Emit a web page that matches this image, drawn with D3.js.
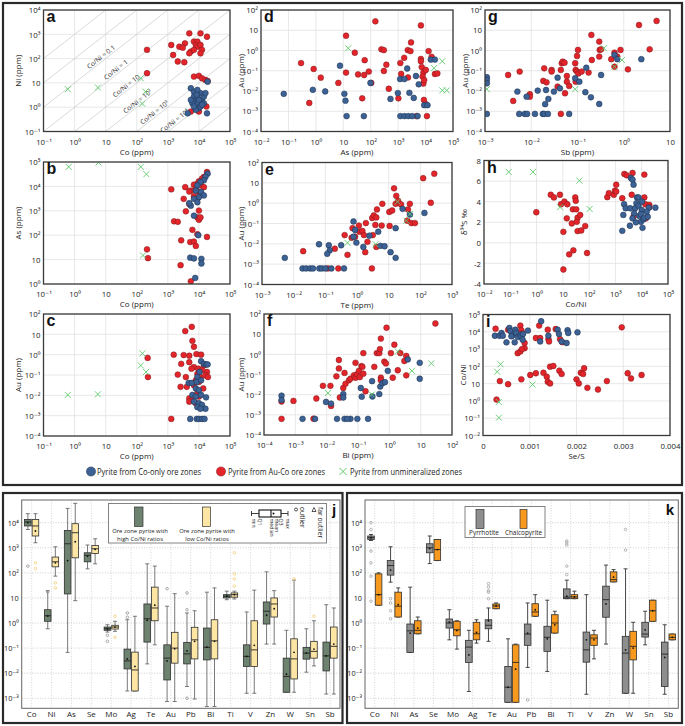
<!DOCTYPE html>
<html><head><meta charset="utf-8">
<script src="https://cdn.jsdelivr.net/npm/d3@7"></script>
<style>body{margin:0;background:#fff}</style>
</head><body>
<script>
// Panel a: [log10 Co ppm, log10 Ni ppm]
const aBlue=[[3.64,-0.25],[3.74,0.78],[3.84,0.64],[3.90,0.30],[3.95,0.16],[4.00,-0.04],[4.05,0.58],[4.10,0.30],[4.16,0.44],[4.21,0.58],[3.84,0.44],[3.95,0.44],[4.05,0.03],[3.79,0.16],[3.90,-0.11],[4.16,0.16],[4.26,-0.25],[4.28,1.05],[4.00,0.30],[3.74,0.30],[3.95,0.71],[3.84,0.03],[4.10,0.10],[3.93,0.51]];
const aRed=[[3.69,3.04],[4.05,3.04],[4.26,2.90],[3.11,2.56],[3.55,2.63],[3.37,2.49],[3.48,2.45],[3.84,2.70],[3.95,2.70],[3.90,2.56],[3.95,2.49],[4.05,2.56],[4.10,2.36],[4.05,2.22],[3.74,2.29],[3.84,2.36],[3.69,2.22],[3.17,2.15],[3.32,1.88],[3.53,1.85],[2.33,2.36],[2.33,1.40],[3.84,1.26],[4.00,1.29],[4.10,1.19],[4.21,1.12],[4.28,1.08],[3.90,0.03],[3.74,-0.18],[4.24,0.03],[4.00,-0.18]];
const aGreen=[[-0.22,0.74],[0.75,0.81],[2.13,1.19],[2.28,0.64],[2.18,0.14]];
const coNiRatios=[-3,-2,-1,0,1,2,3,4,5];
const coNiLabels=[["Co/Ni = 0.1",0.93,-1],["Co/Ni = 1",1.41,0],["Co/Ni = 10",1.74,1],["Co/Ni = 10²",2.11,2],["Co/Ni = 10³",2.65,3],["Co/Ni = 10⁴",3.30,4]];
// Panel b: [log10 Co, log10 As]
const bBlue=[[4.28,4.52],[4.21,4.39],[4.16,4.25],[4.05,4.18],[3.95,4.04],[3.90,3.83],[4.07,3.77],[4.16,3.63],[4.00,3.56],[3.84,3.49],[3.95,3.35],[3.74,3.21],[3.69,3.31],[3.84,2.80],[3.98,2.00],[3.72,1.08],[3.84,1.05],[4.08,1.03],[4.08,0.84],[3.88,0.25]];
const bRed=[[4.26,4.59],[4.16,4.39],[4.10,4.32],[4.00,4.21],[3.95,4.11],[3.84,4.07],[4.07,4.04],[3.90,3.90],[3.74,3.83],[3.56,3.97],[3.69,3.79],[4.00,3.77],[3.84,3.60],[3.95,3.49],[4.16,3.97],[3.11,3.88],[3.51,3.49],[3.69,3.28],[3.58,2.98],[4.00,3.01],[3.95,2.73],[4.00,2.63],[4.05,2.73],[3.20,2.57],[3.32,2.55],[3.79,2.22],[3.95,2.04],[4.26,1.93],[3.43,1.79],[3.72,1.72],[3.84,1.74],[3.90,1.56],[2.33,1.42],[2.36,1.06],[3.41,0.77],[3.74,0.11]];
const bGreen=[[-0.19,4.80],[0.77,4.98],[2.13,4.80],[2.31,4.50],[2.20,1.17]];
// Panel c: [log10 Co, log10 Au]
const cBlue=[[4.07,-0.32],[4.16,-0.45],[4.23,-0.48],[4.28,-0.48],[4.02,-0.85],[3.95,-1.10],[3.67,-1.39],[3.77,-1.39],[3.93,-1.34],[4.07,-1.26],[3.90,-1.66],[4.00,-1.74],[3.79,-1.98],[3.90,-2.06],[4.07,-1.98],[4.23,-2.10],[3.84,-2.31],[4.00,-2.39],[4.10,-2.47],[3.95,-2.58],[4.21,-2.66],[4.05,-2.66],[3.72,-3.16],[3.93,-3.16],[4.00,-3.16],[4.10,-3.16],[4.18,-3.16]];
const cRed=[[3.77,1.37],[3.56,1.16],[3.79,0.68],[3.84,0.39],[3.19,0.00],[3.51,-0.02],[3.69,-0.05],[3.92,0.03],[4.07,0.00],[3.43,-0.45],[3.69,-0.37],[3.84,-0.61],[3.98,-0.69],[3.76,-0.69],[4.16,-0.53],[4.26,-0.85],[4.10,-0.77],[3.32,-0.98],[3.58,-1.10],[3.95,-0.94],[4.05,-1.10],[4.21,-1.02],[4.29,-1.10],[3.41,-1.58],[3.61,-1.58],[3.90,-1.26],[4.00,-1.34],[3.84,-1.50],[4.14,-1.66],[3.69,-2.15],[3.79,-2.23],[3.95,-1.90],[3.69,-2.31],[3.90,-2.39],[4.00,-2.06],[3.11,-3.16],[2.35,-0.16],[2.36,-1.10]];
const cGreen=[[-0.22,-1.98],[0.75,-1.95],[2.18,0.06],[2.13,-0.53],[2.30,-0.85]];
// Panel d: [log10 As, log10 Au]
const dBlue=[[-1.17,-2.14],[-0.11,-1.94],[0.34,-2.02],[0.88,-0.75],[1.04,-2.14],[1.08,-2.48],[1.12,-3.24],[1.75,-3.24],[1.99,-1.60],[2.72,-2.39],[2.99,-2.10],[3.07,-1.41],[3.23,-1.41],[3.33,-0.89],[3.41,-2.09],[3.57,-2.34],[3.65,-1.26],[3.75,-1.67],[3.71,-3.24],[3.08,-3.24],[3.23,-3.24],[3.37,-3.24],[3.51,-3.24],[3.95,-2.70],[4.07,-2.70],[4.19,-0.45],[4.34,-0.45]];
const dRed=[[2.17,1.44],[3.83,1.24],[1.10,0.73],[-0.54,-0.62],[-0.08,-0.91],[-0.24,-2.59],[0.18,-1.34],[0.82,-1.60],[1.10,-1.09],[1.42,-0.11],[1.78,-0.48],[1.54,-1.18],[1.76,-1.21],[1.93,-1.04],[2.02,-1.60],[2.39,0.06],[2.48,0.02],[2.57,-0.70],[2.48,-1.01],[2.66,-1.89],[3.08,-0.62],[3.11,-1.16],[3.22,-0.36],[3.35,0.02],[3.45,-0.03],[3.47,0.40],[3.36,-1.33],[3.01,-2.36],[1.69,-2.36],[3.83,-0.42],[3.83,-0.53],[3.86,-0.82],[3.92,-1.09],[3.89,-1.29],[3.92,-1.63],[3.95,-1.46],[4.01,-0.96],[4.11,-0.03],[4.22,-0.31],[4.34,-1.16],[4.43,-1.13],[4.01,-2.65],[3.94,-2.44],[4.05,-3.24],[3.67,-3.24]];
const dGreen=[[1.18,0.11],[4.61,-0.53],[4.31,-0.87],[4.61,-1.97],[4.77,-1.97]];
// Panel e: [log10 Te, log10 Au]
const eBlue=[[-2.28,-2.69],[-1.72,-3.21],[-1.61,-3.21],[-1.48,-3.21],[-1.39,-3.21],[-1.19,-3.21],[-1.11,-3.21],[-1.00,-3.21],[-0.81,-3.21],[-0.41,-3.21],[-1.20,-2.02],[-0.89,-2.07],[-0.86,-2.32],[-0.94,-2.49],[-0.50,-2.07],[-0.11,-0.90],[-0.06,-1.32],[-0.02,-1.94],[-0.11,-1.65],[0.20,-2.15],[0.39,-1.60],[0.67,-1.40],[0.74,-2.10],[0.87,-2.12],[1.06,-2.41],[1.22,-2.69],[1.22,-1.23],[1.44,-0.28],[1.67,-0.56],[2.13,-0.48]];
const eRed=[[-1.70,-2.36],[-0.70,-2.24],[-0.92,-3.21],[-0.59,-3.21],[-0.39,-1.57],[-0.30,-2.54],[-0.17,-1.70],[-0.14,-1.23],[-0.06,-1.65],[0.06,-1.10],[0.08,-1.40],[0.17,-1.37],[0.22,-1.57],[0.28,-0.98],[0.26,-2.41],[0.33,-1.90],[0.47,-3.21],[0.50,-1.57],[0.48,-0.73],[0.53,-0.60],[0.58,-1.07],[0.61,-0.70],[0.63,-0.31],[0.80,-0.03],[0.78,-1.10],[1.02,-0.43],[1.03,-1.12],[1.11,-0.36],[1.17,0.73],[1.24,0.36],[1.22,-0.03],[1.30,0.11],[1.39,-0.06],[1.61,-0.31],[1.59,-0.86],[1.67,-0.03],[1.72,-0.98],[1.83,-0.98],[2.09,1.23],[2.44,1.45],[2.33,0.02],[0.61,-2.15]];
const eGreen=[[-0.30,-1.95],[0.59,-2.02],[1.28,0.07],[1.56,-0.86],[1.67,-0.53]];
// Panel f: [log10 Bi, log10 Au]
const fBlue=[[-3.44,-2.05],[-3.44,-2.27],[-2.77,-3.20],[-2.37,-3.20],[-2.02,-2.36],[-1.86,-2.44],[-1.67,-3.20],[-1.47,-1.97],[-1.47,-2.14],[-1.43,-3.20],[-1.24,-3.20],[-1.02,-3.20],[-1.34,-3.20],[-0.91,-1.67],[-0.88,-2.10],[-0.68,-3.20],[-0.55,-1.33],[-0.54,-2.09],[-0.32,-1.97],[-0.29,-1.60],[-0.22,-1.43],[-0.14,-1.38],[-0.05,-0.82],[0.59,-0.25],[0.97,-0.42],[0.97,-1.21]];
const fRed=[[-3.44,-2.34],[-3.44,-3.20],[-3.06,-2.31],[-2.42,-3.19],[-2.33,-2.19],[-2.12,-1.56],[-1.88,-1.56],[-1.86,-2.56],[-1.69,-1.09],[-1.61,-0.28],[-1.58,-2.14],[-1.43,-0.92],[-1.61,-0.70],[-1.47,-1.67],[-1.40,-1.46],[-1.29,-1.29],[-1.24,-1.21],[-1.13,-1.04],[-1.08,-1.16],[-1.08,-0.42],[-1.04,-0.99],[-0.97,-0.82],[-0.94,-1.13],[-0.83,0.06],[-0.89,-0.58],[-0.86,-0.62],[-0.83,-0.96],[-0.76,-1.83],[-0.48,-0.62],[-0.40,0.06],[-0.32,0.06],[-0.30,0.26],[-0.27,0.78],[-0.27,-1.16],[-0.27,-1.29],[-0.16,-0.36],[-0.11,-0.45],[-0.09,1.32],[0.05,0.06],[0.11,-1.16],[0.16,0.48],[0.27,-0.79],[0.35,0.06],[0.48,-0.33],[0.54,-0.08],[0.54,-1.04],[1.47,1.53]];
const fGreen=[[-1.96,-1.92],[-0.56,-1.99],[0.27,0.14],[0.72,-0.82],[1.34,-0.45]];
// Panel g: [log10 Sb, log10 Au]
const gBlue=[[-2.96,-1.32],[-2.96,-1.45],[-2.96,-1.62],[-2.96,-3.13],[-2.30,-2.03],[-2.10,-2.28],[-2.26,-3.13],[-2.14,-3.13],[-2.09,-3.13],[-1.92,-3.13],[-1.75,-3.13],[-1.72,-3.13],[-1.64,-3.13],[-1.18,-3.13],[-1.86,-1.98],[-1.70,-2.65],[-1.68,-1.95],[-1.63,-2.39],[-1.51,-2.03],[-1.43,-1.34],[-1.38,-1.87],[-1.05,-1.37],[-0.96,-1.54],[-0.83,-2.06],[-0.81,-0.85],[-0.71,-2.31],[-0.53,-2.64],[-0.49,-1.21],[-0.20,-0.22],[-0.14,-0.43],[0.38,-0.43]];
const gRed=[[-2.50,-1.21],[-2.39,-2.49],[-2.25,-1.04],[-2.03,-2.16],[-2.03,-2.28],[-1.72,-0.88],[-1.74,-1.50],[-1.67,-1.57],[-1.56,-0.96],[-1.56,-1.04],[-1.43,-1.78],[-1.36,-0.96],[-1.34,-0.63],[-1.32,-0.55],[-1.28,-0.60],[-1.27,-2.11],[-1.23,-1.26],[-1.23,-1.54],[-1.18,-1.75],[-1.36,-3.13],[-1.05,-0.63],[-1.04,-0.96],[-1.04,-1.54],[-1.01,-1.04],[-0.98,-1.13],[-1.01,-0.27],[-0.99,0.03],[-0.91,-1.04],[-0.76,-1.09],[-0.70,0.77],[-0.69,-0.47],[-0.53,0.44],[-0.52,0.03],[-0.53,-0.30],[-0.49,0.06],[-0.20,-0.11],[-0.14,-0.30],[-0.07,0.03],[-0.27,-0.43],[-0.20,-0.80],[0.09,-0.93],[0.33,1.26],[0.56,0.06],[0.71,1.46]];
const gGreen=[[-2.96,-1.91],[-1.05,-1.91],[-0.43,0.11],[-0.04,-0.47],[-0.20,-0.80]];
// Panel h: [log10 Co/Ni, δ34S ‰]
const hBlue=[[3.26,1.17],[3.30,2.71],[3.33,3.75],[3.39,3.36],[3.55,1.66],[3.56,3.36],[3.59,6.30],[3.65,6.14],[3.69,5.65],[3.75,3.36],[3.71,2.87],[3.80,3.85],[3.82,4.41],[3.88,4.41],[3.88,3.62],[3.91,2.61],[3.97,2.05],[4.00,3.20],[3.97,2.80],[4.07,2.28],[4.01,4.01],[4.03,1.46],[4.10,2.44],[4.23,2.54],[4.27,3.42],[4.52,3.42],[4.19,3.03],[3.78,1.99],[3.65,2.38]];
const hRed=[[-0.01,2.97],[0.54,4.67],[0.66,4.41],[0.89,4.67],[0.93,3.75],[1.06,4.01],[1.17,3.75],[1.02,1.07],[1.15,2.38],[1.34,1.89],[1.38,3.26],[1.47,4.41],[1.49,4.08],[1.51,3.26],[1.56,2.44],[1.53,2.05],[1.56,1.14],[1.66,2.71],[1.70,1.20],[1.85,1.63],[1.92,-0.99],[1.24,-1.12],[1.40,-0.73],[1.02,-2.59],[2.69,4.44],[2.75,4.83],[2.94,4.67],[2.98,5.06],[3.03,5.65],[3.03,4.99],[3.26,4.34],[3.34,6.69],[3.43,6.56],[3.65,6.79],[3.62,4.67],[4.10,6.63],[4.10,4.41],[4.14,3.75],[4.29,3.69],[4.29,3.46],[4.16,2.38],[3.69,2.54]];
const hGreen=[[-1.06,6.89],[-0.14,6.89],[1.63,6.04],[2.02,3.29],[0.89,3.46]];
// Panel i: [Se/S, log10 Co/Ni]
const iBlue=[[0.000254,3.77],[0.000353,3.77],[0.000396,3.93],[0.000424,3.77],[0.000502,3.39],[0.000565,4.22],[0.000587,4.03],[0.000622,3.77],[0.000608,3.74],[0.000678,3.39],[0.000693,4.12],[0.000714,3.93],[0.000749,3.70],[0.000799,3.83],[0.000820,3.74],[0.000855,3.87],[0.000961,4.07],[0.001223,3.44],[0.001244,4.61],[0.001399,3.77],[0.001597,4.12],[0.001625,3.87],[0.001682,3.44],[0.001788,3.35],[0.001809,4.09],[0.001823,3.93],[0.002021,3.97],[0.000848,3.54]];
const iRed=[[0.000269,4.18],[0.000537,4.12],[0.000799,4.36],[0.000820,4.09],[0.000848,3.89],[0.000890,3.35],[0.000890,3.05],[0.000742,2.76],[0.000799,2.86],[0.000834,3.00],[0.001131,3.64],[0.001201,4.36],[0.001223,3.64],[0.001385,4.12],[0.001399,3.58],[0.001413,3.44],[0.001555,4.16],[0.001647,3.58],[0.001696,3.40],[0.002968,4.26],[0.000290,0.08],[0.000360,1.15],[0.000537,0.97],[0.000820,1.25],[0.001011,1.50],[0.001131,1.60],[0.001293,1.63],[0.001364,1.40],[0.001435,1.98],[0.001505,2.02],[0.001385,1.11],[0.001435,1.01],[0.001633,1.75],[0.001682,1.56],[0.002000,1.25],[0.002049,1.01],[0.002092,1.63],[0.002141,1.56],[0.002163,1.89],[0.002233,0.76],[0.002459,0.66],[0.002650,1.15],[0.003095,1.60],[0.003166,1.30],[0.003392,1.50]];
const iGreen=[[0.000375,2.12],[0.000304,1.69],[0.000339,-0.06],[0.000339,-0.97],[0.001060,0.95]];

// Box plots: [min, Q1, median, Q3, max, mean] as log10 ppm
const elements=["Co","Ni","As","Se","Mo","Ag","Te","Au","Pb","Bi","Ti","V","Zn","W","Sn","Sb"];
const jHigh=[[3.73,3.87,4.03,4.13,4.36,4.0],[-0.23,0.07,0.29,0.53,1.29,0.28],[-1.17,1.16,3.16,3.69,4.57,2.49],[2.16,2.44,2.7,2.8,3.11,2.66],[-0.36,-0.29,-0.23,-0.16,-0.07,-0.23],[-2.71,-1.83,-1.51,-1.04,0.13,-1.43],[-1.63,-0.76,0.17,0.76,2.36,0.11],[-3.13,-2.27,-1.4,-0.87,0.67,-1.51],[-2.53,-1.63,-1.23,-0.77,0.4,-1.11],[-3.33,-1.47,-0.97,-0.2,1.23,-0.96],[0.93,1.0,1.07,1.13,1.27,1.07],[-2.8,-1.73,-1.33,-0.87,0.44,-1.33],[-0.84,-0.04,0.47,0.84,2.04,0.31],[-2.76,-2.76,-2.13,-1.4,-0.29,-2.04],[-1.96,-1.44,-1.2,-0.97,-0.23,-1.2],[-2.83,-1.91,-1.31,-0.76,0.73,-1.31]];
const jHighOut=[[2.27],[1.24],[],[],[-0.49,-0.73],[0.4,0.23],[],[1.37],[1.2,0.53,-3.0],[],[],[],[],[],[],[]];
const jLow=[[3.2,3.47,3.87,4.13,4.36,3.67],[1.87,2.24,2.44,2.63,3.04,2.4],[0.89,2.6,3.6,3.96,4.77,3.24],[2.36,2.77,2.96,3.09,3.36,2.94],[-0.33,-0.24,-0.16,-0.09,0.07,-0.16],[-2.71,-2.71,-1.87,-1.16,0.27,-1.73],[-0.87,0.09,0.6,1.43,2.27,0.71],[-3.13,-1.6,-1.0,-0.37,1.17,-1.03],[-3.03,-1.43,-0.67,-0.17,0.49,-0.73],[-3.33,-1.43,-0.71,0.13,1.4,-0.73],[0.96,1.03,1.13,1.2,1.27,1.13],[-2.8,-1.73,-1.07,0.09,1.31,-0.89],[-0.84,0.24,0.76,1.0,1.29,0.57],[-2.76,-2.23,-1.43,-0.63,1.71,-1.17],[-1.71,-1.4,-1.13,-0.73,0.09,-1.04],[-2.83,-1.4,-0.93,-0.16,0.6,-0.84]];
const jLowOut=[[2.4,2.17],[1.6,1.4],[],[],[0.27,-0.57],[],[],[],[],[],[2.8,1.96,1.76,1.47],[],[],[1.76],[0.27],[]];
const kPo=[[3.29,3.33,3.4,3.47,3.53,3.4],[1.63,1.91,2.29,2.49,3.04,2.11],[-1.17,-1.17,-0.31,-0.04,1.43,-0.4],[2.37,2.8,3.0,3.16,3.47,2.97],[-0.67,-0.2,0.0,0.16,0.53,0.03],[-2.73,-1.57,-0.96,-0.69,-0.29,-1.27],[-0.73,-0.23,-0.09,0.13,0.6,0.09],[-3.16,-3.16,-2.56,-1.73,-0.63,-2.56],[-1.77,-0.89,-0.44,-0.04,0.8,-0.4],[-1.93,-1.13,-0.57,-0.13,0.91,-0.63],[0.97,0.97,1.03,1.36,1.71,1.07],[-2.84,-1.56,-1.07,-0.36,1.13,-0.67],[-0.84,0.23,0.93,1.47,2.31,0.76],[-2.8,-2.8,-1.2,-0.53,2.16,-1.07],[-0.87,-0.56,-0.44,0.03,0.47,-0.27],[-2.84,-2.53,-1.24,-0.76,-0.07,-1.37]];
const kPoOut=[[4.0,3.73,2.87,2.4,1.87,0.87],[0.97,0.8,0.49,0.17],[],[],[],[],[1.57,1.44,1.29,1.23,0.97],[],[-3.07],[],[3.27,3.2,3.11,2.27,1.93],[],[],[3.73,2.91],[],[]];
const kCpy=[[0.71,0.71,1.13,1.96,2.0,1.13],[0.24,0.24,0.67,1.23,1.4,0.73],[-0.43,-0.43,-0.29,0.09,0.24,-0.2],[2.49,2.49,2.93,3.33,3.33,2.93],[-1.04,-0.51,-0.27,0.07,0.09,-0.3],[-0.8,-0.67,-0.43,0.03,0.13,-0.37],[0.57,0.57,0.68,0.76,0.8,0.68],[-3.16,-3.16,-1.57,-0.87,-0.84,-1.84],[0.27,0.27,0.44,0.77,1.13,0.53],[-0.4,-0.4,0.0,0.33,0.47,-0.07],[0.97,0.97,1.04,1.13,1.27,1.04],[-1.43,-0.89,-0.6,-0.47,-0.29,-0.67],[1.64,1.64,1.73,2.04,2.13,1.83],[-2.8,-1.47,-0.93,-0.33,0.03,-1.0],[0.07,0.07,0.49,0.91,0.91,0.49],[-0.67,-0.67,-0.57,-0.44,-0.44,-0.57]];
const kCpyOut=[[],[],[],[],[],[],[],[],[],[],[],[],[],[],[],[]];

// ---------------- DRAWING ----------------
const FONT='"Open Sans","DejaVu Sans",sans-serif';
const BOLD='"Liberation Sans",Arial,sans-serif';
const C_BLUE="#3b6195", C_RED="#e3242b", C_GREEN="#5ec96b";
const svg=d3.select("body").append("svg").attr("width",685).attr("height",726);
svg.append("rect").attr("width",685).attr("height",726).attr("fill","#fff");

const SUP={"-":"⁻","0":"⁰","1":"¹","2":"²","3":"³","4":"⁴","5":"⁵"};
function p10(e){return e===1?"10":"10"+String(e).split("").map(c=>SUP[c]).join("");}
function fmtLog(v){return p10(Math.round(Math.log10(v)));}
const range=(a,b)=>d3.range(a,b+1);

let clipId=0;
function scatter(p){
  const x=(p.xlog?d3.scaleLog():d3.scaleLinear()).domain(p.xd).range(p.xr);
  const y=(p.ylog?d3.scaleLog():d3.scaleLinear()).domain(p.yd).range([p.yr[1],p.yr[0]]);
  const g=svg.append("g");
  const gx=g.append("g");
  p.xt.forEach(t=>gx.append("line").attr("x1",x(t)).attr("x2",x(t)).attr("y1",p.yr[0]).attr("y2",p.yr[1]).attr("stroke","#e2e2e2").attr("stroke-width",0.8));
  p.yt.forEach(t=>gx.append("line").attr("y1",y(t)).attr("y2",y(t)).attr("x1",p.xr[0]).attr("x2",p.xr[1]).attr("stroke","#e2e2e2").attr("stroke-width",0.8));
  const id="clip"+(clipId++);
  g.append("clipPath").attr("id",id).append("rect").attr("x",p.xr[0]).attr("y",p.yr[0]).attr("width",p.xr[1]-p.xr[0]).attr("height",p.yr[1]-p.yr[0]);
  const inner=g.append("g").attr("clip-path",`url(#${id})`);
  if(p.extra) p.extra(inner,x,y);
  const fx=v=>p.xlog?10**v:v, fy=v=>p.ylog?10**v:v;
  const dotR=2.9;
  inner.selectAll(".r").data(p.red).join("circle").attr("cx",d=>x(fx(d[0]))).attr("cy",d=>y(fy(d[1]))).attr("r",dotR).attr("fill",C_RED).attr("stroke","#7a1c1c").attr("stroke-width",0.5);
  inner.selectAll(".b").data(p.blue).join("circle").attr("cx",d=>x(fx(d[0]))).attr("cy",d=>y(fy(d[1]))).attr("r",dotR).attr("fill",C_BLUE).attr("stroke","#1d2f4a").attr("stroke-width",0.5);
  const s=3;
  inner.selectAll(".gx").data(p.green).join("path").attr("d",d=>{const cx=x(fx(d[0])),cy=y(fy(d[1]));return `M${cx-s},${cy-s}L${cx+s},${cy+s}M${cx-s},${cy+s}L${cx+s},${cy-s}`;}).attr("stroke",C_GREEN).attr("stroke-width",0.9).attr("fill","none");
  g.append("rect").attr("x",p.xr[0]).attr("y",p.yr[0]).attr("width",p.xr[1]-p.xr[0]).attr("height",p.yr[1]-p.yr[0]).attr("fill","none").attr("stroke","#3a3a3a").attr("stroke-width",1.3);
  // axes
  const ax=g.append("g").attr("transform",`translate(0,${p.yr[1]+10.5})`).call(d3.axisBottom(x).tickValues(p.xt).tickFormat(p.xf).tickSize(0).tickPadding(0));
  ax.select(".domain").remove();
  ax.selectAll("text").attr("y",0).attr("dy","0.35em").attr("font-size",7.8).attr("font-family",FONT).attr("fill","#222");
  const ay=g.append("g").attr("transform",`translate(${p.xr[0]-3},0)`).call(d3.axisLeft(y).tickValues(p.yt).tickFormat(p.yf).tickSize(0).tickPadding(0));
  ay.select(".domain").remove();
  ay.selectAll("text").attr("x",0).attr("dy","0.35em").attr("font-size",7.8).attr("font-family",FONT).attr("fill","#222");
  g.append("text").attr("x",(p.xr[0]+p.xr[1])/2).attr("y",p.yr[1]+23).attr("text-anchor","middle").attr("font-size",8).attr("font-family",FONT).attr("fill","#222").text(p.xtitle);
  g.append("text").attr("transform",`translate(${p.ytx},${(p.yr[0]+p.yr[1])/2}) rotate(-90)`).attr("text-anchor","middle").attr("dy","0.35em").attr("font-size",8).attr("font-family",FONT).attr("fill","#222").text(p.ytitle);
  g.append("text").attr("x",p.xr[0]+3).attr("y",p.yr[0]+12).attr("font-size",16).attr("font-weight","bold").attr("font-family",BOLD).attr("fill","#111").text(p.letter);
}
const dec=(a,b)=>range(a,b).map(e=>10**e);

scatter({letter:"a",xr:[43.5,230],yr:[10,131.5],xlog:true,ylog:true,xd:[1e-1,1e5],yd:[1e-1,1e4],xt:dec(-1,5),yt:dec(-1,4),xf:fmtLog,yf:fmtLog,xtitle:"Co (ppm)",ytitle:"Ni (ppm)",ytx:18,red:aRed,blue:aBlue,green:aGreen,
  extra:(g,x,y)=>{
    coNiRatios.forEach(r=>g.append("line").attr("x1",x(1e-1)).attr("y1",y(1e-1/10**r)).attr("x2",x(1e5)).attr("y2",y(1e5/10**r)).attr("stroke","#c9c9c9").attr("stroke-width",0.7));
    const ang=-Math.atan2(y(1)-y(10),x(10)-x(1))*180/Math.PI;
    coNiLabels.forEach(([t,lc,r])=>{const cx=x(10**lc),cy=y(10**(lc-r));
      g.append("text").attr("transform",`translate(${cx},${cy}) rotate(${ang})`).attr("text-anchor","middle").attr("dy",-1.8).attr("font-size",6.6).attr("font-family",FONT).attr("fill","#333").text(t);});
  }});
scatter({letter:"b",xr:[43.5,230],yr:[162,284],xlog:true,ylog:true,xd:[1e-1,1e5],yd:[1,1e5],xt:dec(-1,5),yt:dec(0,5),xf:fmtLog,yf:fmtLog,xtitle:"Co (ppm)",ytitle:"As (ppm)",ytx:18,red:bRed,blue:bBlue,green:bGreen});
scatter({letter:"c",xr:[43.5,230],yr:[314,436],xlog:true,ylog:true,xd:[1e-1,1e5],yd:[1e-4,1e2],xt:dec(-1,5),yt:dec(-4,2),xf:fmtLog,yf:fmtLog,xtitle:"Co (ppm)",ytitle:"Au (ppm)",ytx:18,red:cRed,blue:cBlue,green:cGreen});
scatter({letter:"d",xr:[261,453],yr:[10,131.5],xlog:true,ylog:true,xd:[1e-2,1e5],yd:[1e-4,1e2],xt:dec(-2,5),yt:dec(-4,2),xf:fmtLog,yf:fmtLog,xtitle:"As (ppm)",ytitle:"Au (ppm)",ytx:241.5,red:dRed,blue:dBlue,green:dGreen});
scatter({letter:"e",xr:[262,452],yr:[162.5,284.5],xlog:true,ylog:true,xd:[1e-3,1e3],yd:[1e-4,1e2],xt:dec(-3,3),yt:dec(-4,2),xf:fmtLog,yf:fmtLog,xtitle:"Te (ppm)",ytitle:"Au (ppm)",ytx:241.5,red:eRed,blue:eBlue,green:eGreen});
scatter({letter:"f",xr:[264,452],yr:[314,435],xlog:true,ylog:true,xd:[1e-4,1e2],yd:[1e-4,1e2],xt:dec(-4,2),yt:dec(-4,2),xf:fmtLog,yf:fmtLog,xtitle:"Bi (ppm)",ytitle:"Au (ppm)",ytx:241.5,red:fRed,blue:fBlue,green:fGreen});
scatter({letter:"g",xr:[485,670],yr:[10,131.5],xlog:true,ylog:true,xd:[1e-3,10],yd:[1e-4,1e2],xt:dec(-3,1),yt:dec(-4,2),xf:fmtLog,yf:fmtLog,xtitle:"Sb (ppm)",ytitle:"Au (ppm)",ytx:465,red:gRed,blue:gBlue,green:gGreen});
scatter({letter:"h",xr:[484,668],yr:[160.5,284],xlog:true,ylog:false,xd:[1e-2,1e5],yd:[-4,8],xt:dec(-2,5),yt:[-4,-2,0,2,4,6,8],xf:fmtLog,yf:d=>String(d),xtitle:"Co/Ni",ytitle:"δ³⁴S ‰",ytx:464,red:hRed,blue:hBlue,green:hGreen});
scatter({letter:"i",xr:[483,670],yr:[314.5,435.5],xlog:false,ylog:true,xd:[0,0.004],yd:[1e-2,1e5],xt:[0,0.001,0.002,0.003,0.004],yt:dec(-2,5),xf:d=>d===0?"0":d3.format(".3f")(d),yf:fmtLog,xtitle:"Se/S",ytitle:"Co/Ni",ytx:463,red:iRed,blue:iBlue,green:iGreen});

// top legend
const lg=svg.append("g").attr("font-family",FONT).attr("font-size",9.6).attr("fill","#222");
lg.append("circle").attr("cx",91).attr("cy",471.5).attr("r",4.6).attr("fill",C_BLUE).attr("stroke","#1d2f4a").attr("stroke-width",0.5);
lg.append("text").attr("x",97).attr("y",475).attr("textLength",104).attr("lengthAdjust","spacingAndGlyphs").text("Pyrite from Co-only ore zones");
lg.append("circle").attr("cx",221).attr("cy",471.5).attr("r",4.6).attr("fill",C_RED).attr("stroke","#7a1c1c").attr("stroke-width",0.5);
lg.append("text").attr("x",228).attr("y",475).attr("textLength",97).attr("lengthAdjust","spacingAndGlyphs").text("Pyrite from Au-Co ore zones");
lg.append("path").attr("d","M339.5,468L346.5,475M339.5,475L346.5,468").attr("stroke",C_GREEN).attr("stroke-width",1);
lg.append("text").attr("x",350).attr("y",475).attr("textLength",112).attr("lengthAdjust","spacingAndGlyphs").text("Pyrite from unmineralized zones");

// frames
svg.append("rect").attr("x",3).attr("y",3).attr("width",679).attr("height",482).attr("fill","none").attr("stroke","#2a2a2a").attr("stroke-width",2.2);
svg.append("rect").attr("x",3).attr("y",493).attr("width",339.5).attr("height",230).attr("fill","none").attr("stroke","#2a2a2a").attr("stroke-width",2.2);
svg.append("rect").attr("x",347).attr("y",493).attr("width",335).attr("height",230).attr("fill","none").attr("stroke","#2a2a2a").attr("stroke-width",2.2);

// ---------------- box plot panels ----------------
function boxPanel(cfg){
  const x=d3.scaleBand().domain(elements).range(cfg.xr);
  const y=d3.scaleLog().domain([10**-3.4,10**4.905]).range([708.3,500]);
  const g=svg.append("g");
  dec(-3,4).forEach(t=>g.append("line").attr("x1",cfg.xr[0]).attr("x2",cfg.xr[1]).attr("y1",y(t)).attr("y2",y(t)).attr("stroke","#b8b8b8").attr("stroke-width",0.7).attr("stroke-dasharray","1,1.6"));
  elements.forEach(e=>{const cx=x(e)+x.bandwidth()/2;g.append("line").attr("x1",cx).attr("x2",cx).attr("y1",500).attr("y2",708.3).attr("stroke","#c4c4c4").attr("stroke-width",0.7).attr("stroke-dasharray","1,1.6");});
  const bw=6.6, off=3.8;
  cfg.series.forEach((s,si)=>{
    const dx=si===0?-off:off;
    s.data.forEach((d,i)=>{
      const cx=x(elements[i])+x.bandwidth()/2+dx;
      const [mn,q1,md,q3,mx,mean]=d.map(v=>y(10**v));
      g.append("line").attr("x1",cx).attr("x2",cx).attr("y1",mx).attr("y2",mn).attr("stroke",cfg.whisk).attr("stroke-width",0.9);
      g.append("line").attr("x1",cx-2).attr("x2",cx+2).attr("y1",mx).attr("y2",mx).attr("stroke",cfg.whisk).attr("stroke-width",0.9);
      g.append("line").attr("x1",cx-2).attr("x2",cx+2).attr("y1",mn).attr("y2",mn).attr("stroke",cfg.whisk).attr("stroke-width",0.9);
      g.append("rect").attr("x",cx-bw/2).attr("y",q3).attr("width",bw).attr("height",Math.max(q1-q3,1.2)).attr("fill",s.color).attr("stroke","#2e2e2e").attr("stroke-width",0.8);
      g.append("line").attr("x1",cx-bw/2).attr("x2",cx+bw/2).attr("y1",md).attr("y2",md).attr("stroke","#222").attr("stroke-width",0.9);
      g.append("circle").attr("cx",cx).attr("cy",mean).attr("r",0.9).attr("fill","#111");
      s.out[i].forEach(v=>g.append("circle").attr("cx",cx).attr("cy",y(10**v)).attr("r",1.3).attr("fill","none").attr("stroke",s.outColor).attr("stroke-width",0.7));
    });
  });
  g.append("rect").attr("x",cfg.xr[0]).attr("y",500).attr("width",cfg.xr[1]-cfg.xr[0]).attr("height",208.3).attr("fill","none").attr("stroke","#666").attr("stroke-width",1);
  const ay=g.append("g").attr("transform",`translate(${cfg.xr[0]-3},0)`).call(d3.axisLeft(y).tickValues(dec(-3,4)).tickFormat(fmtLog).tickSize(0).tickPadding(0));
  ay.select(".domain").remove();
  ay.selectAll("text").attr("x",0).attr("dy","0.35em").attr("font-size",7.3).attr("font-family",FONT).attr("fill","#222");
  const ax=g.append("g").attr("transform",`translate(0,714.5)`).call(d3.axisBottom(x).tickSize(0).tickPadding(0));
  ax.select(".domain").remove();
  ax.selectAll("text").attr("y",0).attr("dy","0.35em").attr("font-size",8).attr("font-family",FONT).attr("fill","#222");
  g.append("text").attr("x",cfg.letterX).attr("y",515).attr("text-anchor","middle").attr("font-size",15).attr("font-weight","bold").attr("font-family",BOLD).attr("fill","#111").text(cfg.letter);
  return g;
}
const GREENBOX="#6e836f", YELLOWBOX="#fde6a4", GRAYBOX="#8e8e8e", ORANGEBOX="#f7991e";
boxPanel({xr:[21.7,340],letter:"j",letterX:334,whisk:"#6a6a6a",series:[{data:jHigh,out:jHighOut,color:GREENBOX,outColor:"#888"},{data:jLow,out:jLowOut,color:YELLOWBOX,outColor:"#f2c96b"}]});
boxPanel({xr:[365,678.3],letter:"k",letterX:670,whisk:"#333",series:[{data:kPo,out:kPoOut,color:GRAYBOX,outColor:"#999"},{data:kCpy,out:kCpyOut,color:ORANGEBOX,outColor:"#f7991e"}]});

// j legend
const jl=svg.append("g").attr("font-family",FONT).attr("fill","#222");
jl.append("rect").attr("x",108.5).attr("y",503.5).attr("width",218).attr("height",39.5).attr("fill","#fff").attr("stroke","#777").attr("stroke-width",0.9);
jl.append("rect").attr("x",134.5).attr("y",507).attr("width",8.5).attr("height",19.5).attr("fill",GREENBOX).attr("stroke","#333").attr("stroke-width",0.7);
jl.append("rect").attr("x",202.5).attr("y",507).attr("width",8).attr("height",19.5).attr("fill",YELLOWBOX).attr("stroke","#333").attr("stroke-width",0.7);
[["Ore zone pyrite with",140,532.5],["high Co/Ni ratios",140,540.5],["Ore zone pyrite with",207,532.5],["low Co/Ni ratios",207,540.5]].forEach(([t,xx,yy])=>jl.append("text").attr("x",xx).attr("y",yy).attr("text-anchor","middle").attr("font-size",5.9).text(t));
// box key
jl.append("line").attr("x1",251.5).attr("x2",288).attr("y1",513.5).attr("y2",513.5).attr("stroke","#111").attr("stroke-width",0.8);
jl.append("line").attr("x1",251.5).attr("x2",251.5).attr("y1",511).attr("y2",516).attr("stroke","#111").attr("stroke-width",0.8);
jl.append("line").attr("x1",288).attr("x2",288).attr("y1",511).attr("y2",516).attr("stroke","#111").attr("stroke-width",0.8);
jl.append("rect").attr("x",259).attr("y",510).attr("width",22).attr("height",7).attr("fill","#fff").attr("stroke","#111").attr("stroke-width",1.1);
jl.append("line").attr("x1",271).attr("x2",271).attr("y1",510).attr("y2",517).attr("stroke","#111").attr("stroke-width",1.1);
jl.append("circle").attr("cx",273.5).attr("cy",513.5).attr("r",1).attr("fill","#111");
[["max",288,5.2],["Q3",281,5.2],["mean",276.5,5.2],["median",272,5.2],["Q1",259.5,5.2],["min",254,5.2]].forEach(([t,xx,fs])=>jl.append("text").attr("transform",`translate(${xx},518.5) rotate(90)`).attr("font-size",fs).attr("dy","0.35em").text(t));
jl.append("circle").attr("cx",296).attr("cy",509.5).attr("r",1.5).attr("fill","none").attr("stroke","#111").attr("stroke-width",0.7);
jl.append("path").attr("d","M312,511.5L314,507.5L316,511.5Z").attr("fill","none").attr("stroke","#111").attr("stroke-width",0.7);
jl.append("text").attr("transform","translate(302,507) rotate(90)").attr("font-size",6.8).attr("dy","0.35em").text("outlier");
jl.append("text").attr("transform","translate(320,507) rotate(90)").attr("font-size",6.8).attr("dy","0.35em").text("far outlier");

// k legend
const kl=svg.append("g").attr("font-family",FONT).attr("fill","#222");
kl.append("rect").attr("x",465).attr("y",506.5).attr("width",80).attr("height",31).attr("fill","#fff").attr("stroke","#777").attr("stroke-width",0.9);
kl.append("rect").attr("x",476).attr("y",509.5).attr("width",8).attr("height",19).attr("fill",GRAYBOX).attr("stroke","#333").attr("stroke-width",0.7);
kl.append("rect").attr("x",520).attr("y",509.5).attr("width",7).attr("height",19).attr("fill",ORANGEBOX).attr("stroke","#333").attr("stroke-width",0.7);
kl.append("text").attr("x",484).attr("y",534.5).attr("text-anchor","middle").attr("font-size",6.4).text("Pyrrhotite");
kl.append("text").attr("x",523.5).attr("y",534.5).attr("text-anchor","middle").attr("font-size",6.4).text("Chalcopyrite");
</script>
</body></html>
